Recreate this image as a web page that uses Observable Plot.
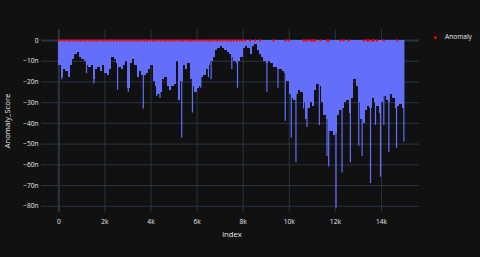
<!DOCTYPE html>
<html><head><meta charset="utf-8">
<script src="https://cdn.jsdelivr.net/npm/d3@7"></script>
<script src="https://cdn.jsdelivr.net/npm/@observablehq/plot@0.6"></script>
<style>
html,body{margin:0;padding:0;background:#111111;}
#wrap{position:relative;width:480px;height:257px;overflow:hidden;font-family:"Open Sans",sans-serif;background:#111111;}
#wrap svg{display:block;}
.t{position:absolute;color:#e6e8ec;white-space:nowrap;line-height:1;}
</style></head><body>
<div id="wrap"></div>
<script>
// Bin width (index units) of each drawn bar group
const BIN = 100;
const binStart = [
  0,100,200,300,400,500,600,700,800,900,
  1000,1100,1200,1300,1400,1500,1600,1700,1800,1900,
  2000,2100,2200,2300,2400,2500,2600,2700,2800,2900,
  3000,3100,3200,3300,3400,3500,3600,3700,3800,3900,
  4000,4100,4200,4300,4400,4500,4600,4700,4800,4900,
  5000,5100,5200,5300,5400,5500,5600,5700,5800,5900,
  6000,6100,6200,6300,6400,6500,6600,6700,6800,6900,
  7000,7100,7200,7300,7400,7500,7600,7700,7800,7900,
  8000,8100,8200,8300,8400,8500,8600,8700,8800,8900,
  9000,9100,9200,9300,9400,9500,9600,9700,9800,9900,
  10000,10100,10200,10300,10400,10500,10600,10700,10800,10900,
  11000,11100,11200,11300,11400,11500,11600,11700,11800,11900,
  12000,12100,12200,12300,12400,12500,12600,12700,12800,12900,
  13000,13100,13200,13300,13400,13500,13600,13700,13800,13900,
  14000,14100,14200,14300,14400,14500,14600,14700,14800,14900
];
const binScore = [
  -12,-18,-14,-15,-18,-12,-9,-7,-6,-8,
  -9,-10,-12,-13,-12,-19,-14,-13,-15,-12,
  -16,-17,-14,-8,-9,-11,-13,-14,-12,-10,
  -23,-11,-9,-12,-18,-15,-17,-17,-16,-14,
  -12,-20,-22,-26,-25,-19,-18,-22,-24,-22,
  -21,-10,-29,-20,-12,-14,-11,-19,-22,-25,
  -23,-22,-18,-17,-14,-12,-10,-8,-5,-4,
  -3,-4,-5,-6,-7,-8,-10,-11,-10,-8,
  -4,-3,-4,-7,-3,-2,-5,-7,-8,-10,
  -11,-10,-11,-13,-13,-14,-14,-15,-16,-20,
  -26,-28,-29,-26,-24,-25,-30,-38,-33,-30,
  -32,-24,-21,-22,-30,-36,-38,-44,-44,-46,
  -45,-36,-34,-33,-30,-29,-35,-28,-19,-22,
  -30,-38,-40,-34,-32,-33,-28,-30,-32,-35,
  -30,-27,-29,-30,-26,-28,-33,-32,-31,-33
];
// Deep individual spikes
const spikeIndex = [130,1203,1522,2551,3015,3667,4247,4392,5333,5800,6160,6494,6609,7507,7754,9030,9509,9826,10087,10290,10623,10769,11305,11638,11710,12029,12290,12652,13016,13161,13524,13741,13958,14102,14320,14653,14972];
const spikeScore = [-19,-16,-21,-24,-25,-33,-27,-28,-47,-35,-23,-18,-19,-14,-23,-25,-23,-39,-47,-59,-33,-42,-41,-56,-61,-81,-64,-59,-51,-56,-69,-41,-66,-41,-54,-52,-49];
// Anomaly markers (score of every flagged point reads as 0)
const ANOMALY_SCORE = 0;
const anomalyIndex = [15,130,240,370,480,600,720,850,960,1080,1190,1320,1440,1560,1670,1800,1920,2030,2160,2280,2390,2520,2640,2750,2880,3000,3110,3240,3360,3470,3600,3720,3830,3960,4080,4190,4320,4440,4560,4670,4800,4920,5040,5160,5290,5400,5530,5650,5760,5890,6010,6130,6250,6380,6500,6620,6750,6870,6990,7110,7240,7360,7480,7600,7730,7850,7960,8090,8300,8520,8740,9320,9830,9970,10620,10700,10770,10910,10990,11060,11130,11350,11640,11710,12220,12360,12580,13230,13380,13450,13590,13670,13810,14100,14680];

const xTicks = [0,2000,4000,6000,8000,10000,12000,14000];
const yTicks = [0,-10,-20,-30,-40,-50,-60,-70,-80];

const bins = binStart.map((s, i) => ({start: s, score: binScore[i]}));
const spikes = spikeIndex.map((x, i) => ({index: x, score: spikeScore[i]}));
const anoms = anomalyIndex.map(x => ({index: x}));

const GRID = "#283442";
const BAR = "#636efa";
const xFmt = d => d === 0 ? "0" : `${d / 1000}k`;
const yFmt = d => d === 0 ? "0" : `\u2212${-d}n`;

const chart = Plot.plot({
  width: 480, height: 257,
  marginLeft: 41, marginRight: 61, marginTop: 29, marginBottom: 45,
  style: {background: "#111111", color: "#e6e8ec", fontFamily: "Open Sans", fontSize: "6.6px", overflow: "visible"},
  x: {domain: [-750, 15650], label: null},
  y: {domain: [-83, 5.3], label: null},
  marks: [
    Plot.gridX(xTicks, {stroke: GRID, strokeOpacity: 1}),
    Plot.gridY(yTicks, {stroke: GRID, strokeOpacity: 1}),
    Plot.ruleY([0], {stroke: GRID, strokeWidth: 2}),
    Plot.ruleX([0], {stroke: GRID, strokeWidth: 2}),
    Plot.rectY(bins, {x1: "start", x2: d => d.start + BIN, y1: 0, y2: "score", fill: BAR, inset: 0, shapeRendering: "crispEdges"}),
    Plot.ruleX(spikes, {x: "index", y1: 0, y2: "score", stroke: BAR, strokeWidth: 1.2}),
    Plot.dot(anoms, {x: "index", y: () => ANOMALY_SCORE, r: 1.15, fill: "red", stroke: "none"}),
    Plot.axisX(xTicks, {tickSize: 0, tickPadding: 7, tickFormat: xFmt, label: null, fill: "#e6e8ec"}),
    Plot.axisY(yTicks, {tickSize: 0, tickPadding: 3, tickFormat: yFmt, label: null, fill: "#e6e8ec"})
  ]
});

const wrap = document.getElementById("wrap");
wrap.append(chart);

function addText(txt, left, top, size, extra) {
  const d = document.createElement("div");
  d.className = "t";
  d.textContent = txt;
  d.style.left = left + "px";
  d.style.top = top + "px";
  d.style.fontSize = size + "px";
  d.style.transform = extra || "translate(-50%,-50%)";
  wrap.append(d);
  return d;
}
addText("index", 232, 235, 7.7);
addText("Anomaly_Score", 7.5, 121, 7.7, "translate(-50%,-50%) rotate(-90deg)");
// legend
const dot = document.createElement("div");
dot.style.cssText = "position:absolute;left:433.5px;top:35.5px;width:3px;height:3px;border-radius:50%;background:red;";
wrap.append(dot);
addText("Anomaly", 445, 37, 6.6, "translate(0,-50%)");
</script>
</body></html>
